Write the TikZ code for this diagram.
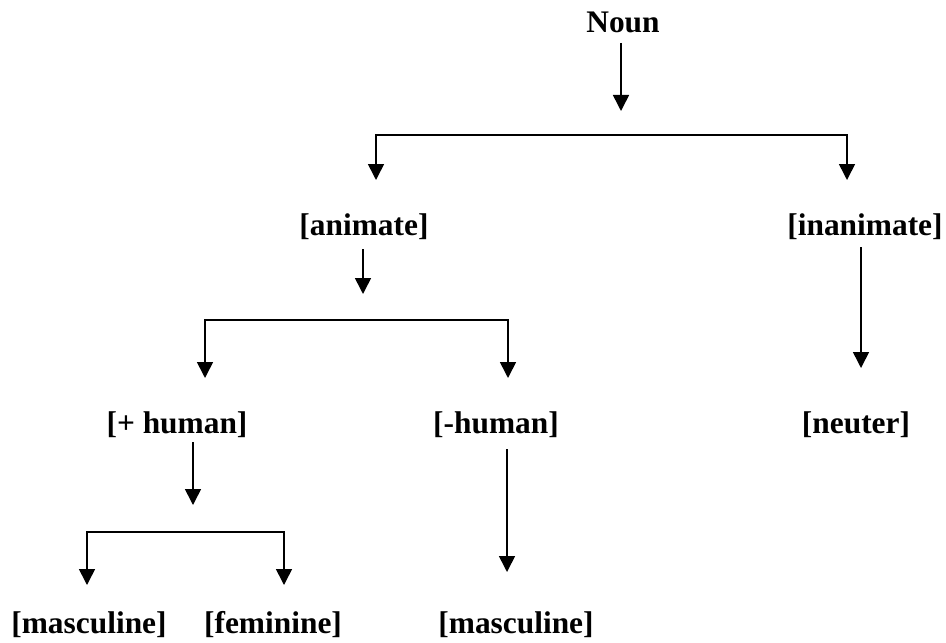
\documentclass[tikz,border=0pt]{standalone}
\usepackage{fontspec}
\setmainfont{Liberation Serif}
\usetikzlibrary{arrows.meta}
\tikzset{
  lbl/.style={anchor=base,inner sep=0pt,font=\fontsize{15.7}{19}\selectfont\bfseries},
  arr/.style={line width=0.8pt,-{Triangle[width=8pt,length=8pt]}},
  fork/.style={line width=0.8pt,{Triangle[width=8pt,length=8pt]}-{Triangle[width=8pt,length=8pt]}}
}
\begin{document}
\begin{tikzpicture}[x=0.5pt,y=-0.5pt]
\useasboundingbox (0,0) rectangle (946,642);
% labels (baselines)
\node[lbl] (noun) at (623,33) {Noun};
\node[lbl] (anim) at (364,235) {[animate]};
\node[lbl] (inan) at (865,235) {[inanimate]};
\node[lbl] (hum) at (177,433) {[+ human]};
\node[lbl] (nhum) at (496,433) {[-human]};
\node[lbl] (neut) at (856,433) {[neuter]};
\node[lbl] (masc) at (89,633) {[masculine]};
\node[lbl] (fem) at (273,633) {[feminine]};
\node[lbl] (masc2) at (516,633) {[masculine]};
% arrow ends
\coordinate (t0) at (621,111);
\coordinate (c1) at (621,135);
\coordinate (l1) at (376,180);
\coordinate (r1) at (847,180);
\coordinate (t1) at (363,294);
\coordinate (c2) at (363,320);
\coordinate (l2) at (205,378);
\coordinate (r2) at (508,378);
\coordinate (t2) at (861,368);
\coordinate (t3) at (193,505);
\coordinate (c3) at (193,532);
\coordinate (l3) at (87,585);
\coordinate (r3) at (284,585);
\coordinate (t4) at (507,572);
% arrows
\draw[arr] ([yshift=-5pt]noun.base -| t0) -- (t0);
\draw[fork] (l1) |- (c1) -| (r1);
\draw[arr] ([yshift=-7pt]anim.base -| t1) -- (t1);
\draw[fork] (l2) |- (c2) -| (r2);
\draw[arr] ([yshift=-6pt]inan.base -| t2) -- (t2);
\draw[arr] ([yshift=-4.5pt]hum.base -| t3) -- (t3);
\draw[fork] (l3) |- (c3) -| (r3);
\draw[arr] ([yshift=-8pt]nhum.base -| t4) -- (t4);
\end{tikzpicture}
\end{document}
